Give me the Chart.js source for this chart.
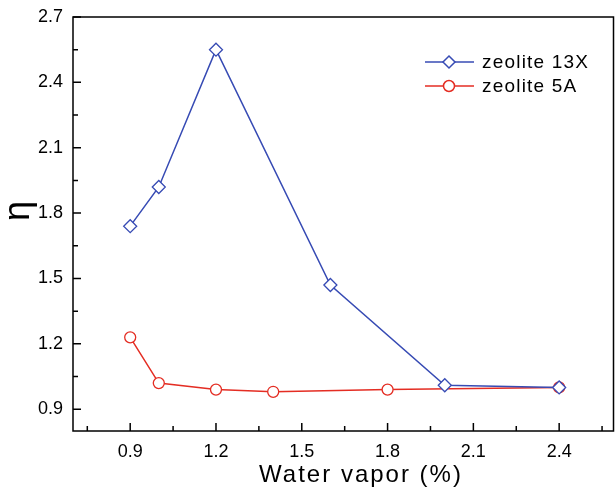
<!DOCTYPE html>
<html>
<head>
<meta charset="utf-8">
<script src="https://cdn.jsdelivr.net/npm/chart.js@4/dist/chart.umd.min.js"></script>
<style>
  html, body { margin: 0; padding: 0; background: #fff; }
  #wrap { width: 616px; height: 488px; }
</style>
</head>
<body>
<div id="wrap"><canvas id="chart1" width="616" height="488"></canvas></div>
<script>
// data
const x13X = [0.9, 1.0, 1.2, 1.6, 2.0, 2.4];
const y13X = [1.74, 1.92, 2.55, 1.47, 1.01, 1.0];
const x5A = [0.9, 1.0, 1.2, 1.4, 1.8, 2.4];
const y5A = [1.23, 1.02, 0.99, 0.98, 0.99, 1.0];
const xTicks = [0.9, 1.2, 1.5, 1.8, 2.1, 2.4];
const yTicks = [0.9, 1.2, 1.5, 1.8, 2.1, 2.4, 2.7];

const blue = "rgb(55,75,180)";
const red = "rgb(228,45,35)";
const font = "'Liberation Sans', Arial, sans-serif";

function pts(xs, ys) {
    return xs.map(function(x, i) { return { x: x, y: ys[i] }; });
}

// frame, inward ticks, axis titles and legend
const decor = {
    id: 'decor',
    afterDraw: function(chart) {
        const ctx = chart.ctx;
        const a = chart.chartArea;
        const xs = chart.scales.x, ys = chart.scales.y;
        ctx.save();
        ctx.strokeStyle = "#000";
        ctx.lineWidth = 1.5;
        ctx.strokeRect(a.left, a.top, a.right - a.left, a.bottom - a.top);

        ctx.beginPath();
        for (let v = 0.75; v < xs.max; v += 0.15) {
            const px = xs.getPixelForValue(v);
            const major = Math.abs(Math.round(v / 0.3) * 0.3 - v) < 0.01;
            const len = major ? 8 : 5;
            ctx.moveTo(px, a.bottom);
            ctx.lineTo(px, a.bottom - len);
        }
        for (let v = 0.9; v < ys.max + 0.01; v += 0.15) {
            const py = ys.getPixelForValue(v);
            const major = Math.abs(Math.round(v / 0.3) * 0.3 - v) < 0.01;
            const len = major ? 8 : 5;
            ctx.moveTo(a.left, py);
            ctx.lineTo(a.left + len, py);
        }
        ctx.stroke();

        // axis titles
        ctx.fillStyle = "#000";
        ctx.font = "24px " + font;
        ctx.letterSpacing = "2px";
        ctx.textAlign = "center";
        ctx.textBaseline = "alphabetic";
        ctx.fillText("Water vapor (%)", 361, 482);
        ctx.letterSpacing = "0px";
        ctx.save();
        ctx.translate(29, 211);
        ctx.rotate(-Math.PI / 2);
        ctx.font = "36px " + font;
        ctx.fillText("η", 0, 0);
        ctx.restore();

        // legend
        const rows = [
            { label: "zeolite 13X", color: blue, shape: "diamond", y: 62 },
            { label: "zeolite 5A", color: red, shape: "circle", y: 86 }
        ];
        ctx.font = "19px " + font;
        ctx.letterSpacing = "1.2px";
        ctx.textAlign = "left";
        ctx.textBaseline = "middle";
        rows.forEach(function(r) {
            ctx.strokeStyle = r.color;
            ctx.lineWidth = 1.5;
            ctx.beginPath();
            ctx.moveTo(425, r.y);
            ctx.lineTo(474, r.y);
            ctx.stroke();
            ctx.fillStyle = "#fff";
            ctx.beginPath();
            if (r.shape === "diamond") {
                ctx.moveTo(449, r.y - 6);
                ctx.lineTo(455, r.y);
                ctx.lineTo(449, r.y + 6);
                ctx.lineTo(443, r.y);
                ctx.closePath();
            } else {
                ctx.arc(449, r.y, 5.5, 0, Math.PI * 2);
            }
            ctx.fill();
            ctx.stroke();
            ctx.fillStyle = "#000";
            ctx.fillText(r.label, 482, r.y + 1);
        });
        ctx.letterSpacing = "0px";
        ctx.restore();
    }
};

var ctx = document.getElementById('chart1').getContext('2d');
var chart = new Chart(ctx, {
    type: 'line',
    data: {
        datasets: [{
            label: "zeolite 13X",
            data: pts(x13X, y13X),
            borderColor: blue,
            backgroundColor: "#fff",
            borderWidth: 1.5,
            pointStyle: 'rectRot',
            pointRadius: 6.5,
            pointBorderWidth: 1.3,
            pointBorderColor: blue,
            pointBackgroundColor: "#fff",
            tension: 0
        }, {
            label: "zeolite 5A",
            data: pts(x5A, y5A),
            borderColor: red,
            backgroundColor: "#fff",
            borderWidth: 1.5,
            pointStyle: 'circle',
            pointRadius: 5.5,
            pointBorderWidth: 1.3,
            pointBorderColor: red,
            pointBackgroundColor: "#fff",
            tension: 0
        }]
    },
    options: {
        responsive: false,
        animation: false,
        layout: { autoPadding: false, padding: { top: 17, right: 2.5, left: 0, bottom: 0 } },
        plugins: { legend: { display: false }, tooltip: { enabled: false } },
        scales: {
            x: {
                type: 'linear',
                min: 0.7,
                max: 2.59,
                afterBuildTicks: function(s) { s.ticks = xTicks.map(function(v) { return { value: v }; }); },
                afterFit: function(s) { s.height = 57; s.paddingLeft = 0; s.paddingRight = 0; },
                grid: { display: false, drawTicks: false },
                border: { display: false },
                ticks: {
                    color: "#000",
                    font: { family: font, size: 18 },
                    padding: 10,
                    maxRotation: 0,
                    callback: function(v) { return v.toFixed(1); }
                }
            },
            y: {
                type: 'linear',
                min: 0.8,
                max: 2.7,
                afterBuildTicks: function(s) { s.ticks = yTicks.map(function(v) { return { value: v }; }); },
                afterFit: function(s) { s.width = 73; s.paddingTop = 0; s.paddingBottom = 0; },
                grid: { display: false, drawTicks: false },
                border: { display: false },
                ticks: {
                    color: "#000",
                    font: { family: font, size: 18 },
                    padding: 10,
                    callback: function(v) { return v.toFixed(1); }
                }
            }
        }
    },
    plugins: [decor]
});
</script>
</body>
</html>
